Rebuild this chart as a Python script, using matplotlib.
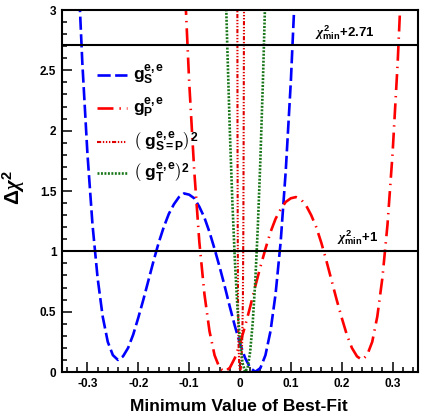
import matplotlib
matplotlib.use("Agg")
import matplotlib.pyplot as plt
from matplotlib.ticker import MultipleLocator, FuncFormatter

plt.rcParams['font.family'] = ['Liberation Sans', 'DejaVu Sans']
plt.rcParams['font.weight'] = 'bold'
plt.rcParams['mathtext.fontset'] = 'custom'
plt.rcParams['mathtext.rm'] = 'Liberation Sans:bold'
plt.rcParams['mathtext.bf'] = 'Liberation Sans:bold'
plt.rcParams['mathtext.it'] = 'Liberation Serif:italic'
plt.rcParams['lines.scale_dashes'] = False

# curves
x_s = [-0.32, -0.31, -0.30, -0.29, -0.28, -0.27, -0.26, -0.25, -0.24, -0.23,
       -0.22, -0.21, -0.20, -0.19, -0.18, -0.17, -0.16, -0.15, -0.14, -0.13,
       -0.12, -0.11, -0.10, -0.09, -0.08, -0.07, -0.06, -0.05, -0.04, -0.03,
       -0.02, -0.01, 0.00, 0.01, 0.02, 0.03, 0.04, 0.05, 0.06, 0.07,
       0.08, 0.09, 0.10, 0.11]
chi_s = [3.50, 2.56, 1.81, 1.22, 0.78, 0.46, 0.25, 0.14, 0.10, 0.13,
         0.20, 0.31, 0.45, 0.60, 0.76, 0.92, 1.07, 1.20, 1.31, 1.39,
         1.45, 1.48, 1.47, 1.44, 1.37, 1.28, 1.16, 1.02, 0.87, 0.71,
         0.54, 0.38, 0.236, 0.117, 0.035, 0.002, 0.032, 0.139, 0.339, 0.648,
         1.08, 1.67, 2.41, 3.34]

x_p = [-0.11, -0.10, -0.09, -0.08, -0.07, -0.06, -0.05, -0.04, -0.03, -0.02,
       -0.01, 0.00, 0.01, 0.02, 0.03, 0.04, 0.05, 0.06, 0.07, 0.08,
       0.09, 0.10, 0.11, 0.12, 0.13, 0.14, 0.15, 0.16, 0.17, 0.18,
       0.19, 0.20, 0.21, 0.22, 0.23, 0.24, 0.25, 0.26, 0.27, 0.28,
       0.29, 0.30, 0.31, 0.32]
chi_p = [3.34, 2.41, 1.67, 1.08, 0.648, 0.339, 0.139, 0.032, 0.002, 0.035,
         0.117, 0.236, 0.38, 0.54, 0.71, 0.87, 1.02, 1.16, 1.27, 1.35,
         1.41, 1.44, 1.45, 1.43, 1.38, 1.30, 1.20, 1.07, 0.92, 0.76,
         0.60, 0.45, 0.31, 0.20, 0.13, 0.10, 0.14, 0.25, 0.46, 0.78,
         1.22, 1.81, 2.56, 3.50]

x_sp = [-0.0052, -0.0049, -0.0045, -0.0039, -0.0030, -0.0015, 0.0005, 0.0025,
        0.0043, 0.0057, 0.0066, 0.0072, 0.0076, 0.0080]
chi_sp = [3.2, 2.0, 1.2, 0.6, 0.25, 0.06, 0.0, 0.06, 0.25, 0.6, 1.2, 2.0, 2.6, 3.2]

x_t = [-0.028, -0.025, -0.020, -0.015, -0.010, -0.005, 0.000, 0.005, 0.010,
       0.015, 0.020, 0.025, 0.030, 0.035, 0.040, 0.045, 0.050]
chi_t = [3.16, 2.70, 2.00, 1.41, 0.917, 0.532, 0.252, 0.075, 0.002,
         0.033, 0.168, 0.408, 0.751, 1.198, 1.75, 2.40, 3.16]

levels = [1.0, 2.71]
level_labels = [r'$\chi^{2}_{\mathbf{min}}$+1', r'$\chi^{2}_{\mathbf{min}}$+2.71']

labels = [r'$\mathbf{g}^{\mathbf{e,e}}_{\mathbf{S}}$',
          r'$\mathbf{g}^{\mathbf{e,e}}_{\mathbf{P}}$',
          r'$\left(\ \mathbf{g}^{\mathbf{e,e}}_{\mathbf{S=P}}\right)^{\mathbf{2}}$',
          r'$\left(\ \mathbf{g}^{\mathbf{e,e}}_{\mathbf{T}}\right)^{\mathbf{2}}$']

blue = '#0000ff'
red = '#ff0000'
green = '#167516'

styles = [dict(color=blue, lw=1.9, dashes=(9.5, 3.2)),
          dict(color=red, lw=1.9, dashes=(11.5, 4.3, 1.0, 4.3)),
          dict(color='#e00000', lw=1.5, dashes=(3.0, 1.2, 1.0, 1.2, 1.0, 1.2, 1.0, 1.2)),
          dict(color=green, lw=1.9, dashes=(1.4, 1.1))]

fig = plt.figure(figsize=(4.36, 4.18), dpi=100)
ax = fig.add_axes([0.1422, 0.110, 0.8165, 0.866])

series = [(x_s, chi_s), (x_p, chi_p), (x_sp, chi_sp), (x_t, chi_t)]
for (xx, yy), st in zip(series, styles):
    ax.plot(xx, yy, **st)

for lv in levels:
    ax.axhline(lv, color='black', lw=1.5)

ax.text(0.19, 1.08, level_labels[0], fontsize=9.5, fontweight='bold')
ax.text(0.148, 2.78, level_labels[1], fontsize=9.5, fontweight='bold')

# legend drawn by hand, no frame
leg_y = [0.820, 0.729, 0.635, 0.550]
for ly, lab, st in zip(leg_y, labels, styles):
    ax.plot([0.098, 0.183], [ly, ly], transform=ax.transAxes, **st)
    ax.text(0.2, ly, lab, transform=ax.transAxes, fontsize=12.5, va='center')

ax.set_xlim(-0.35, 0.35)
ax.set_ylim(0, 3)
ax.xaxis.set_major_locator(MultipleLocator(0.1))
ax.xaxis.set_minor_locator(MultipleLocator(0.02))
ax.yaxis.set_major_locator(MultipleLocator(0.5))
ax.yaxis.set_minor_locator(MultipleLocator(0.1))
ax.xaxis.set_major_formatter(FuncFormatter(lambda v, p: '%g' % round(v, 2)))
ax.yaxis.set_major_formatter(FuncFormatter(lambda v, p: '%g' % round(v, 2)))
ax.tick_params(which='major', direction='in', length=7.5, width=1.1, labelsize=8.5, pad=4)
ax.tick_params(which='minor', direction='in', length=3.8, width=1.1)
ax.tick_params(top=False, right=False)
for sp in ax.spines.values():
    sp.set_linewidth(1.5)

ax.set_xlabel('Minimum Value of Best-Fit', fontsize=12.5, fontweight='bold')
ax.xaxis.set_label_coords(0.496, -0.075)
ax.set_ylabel(r'$\Delta\chi^{2}$', fontsize=15)
ax.yaxis.set_label_coords(-0.097, 0.51)

fig.savefig('out.png', dpi=100)
